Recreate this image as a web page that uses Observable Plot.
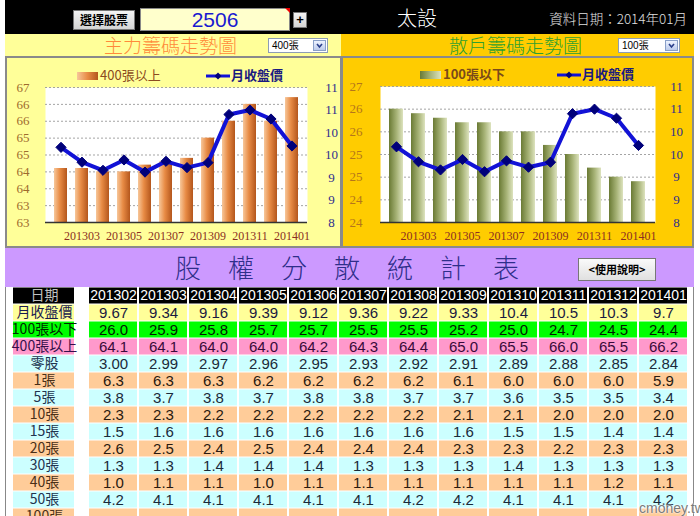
<!DOCTYPE html>
<html><head><meta charset="utf-8">
<script src="https://cdn.jsdelivr.net/npm/d3@7"></script>
<script src="https://cdn.jsdelivr.net/npm/@observablehq/plot@0.6"></script>
<style>
body{margin:0;width:700px;height:516px;overflow:hidden;background:#fff;position:relative;font-family:"Noto Sans CJK TC",sans-serif}
.abs{position:absolute;white-space:nowrap}
.btn{background:linear-gradient(#f4f4f4,#d4d4d4);border:1px solid #777;box-sizing:border-box;text-align:center;color:#000;font-weight:bold}
.sel{background:#fff;border:1px solid #8d9db5;box-sizing:border-box;font-size:10px;line-height:13px;padding-left:3px;color:#000;font-family:"Liberation Sans","Noto Sans CJK TC"}
.sel i{position:absolute;right:1px;top:1px;width:13px;height:11px;background:linear-gradient(#eef3ff,#bccbeb);border:1px solid #8aa0c8;box-sizing:border-box}
.plotbox{position:absolute}
.plotbox svg{position:absolute;left:0;top:0}
</style></head>
<body>
<!-- header -->
<div class="abs" style="left:5px;top:0;width:689px;height:34px;background:#000"></div>
<div class="abs btn" style="left:73px;top:10px;width:62px;height:20px;font-size:12px;line-height:18px">選擇股票</div>
<div class="abs" style="left:140px;top:8px;width:150px;height:23px;background:#FFFFCC;border:1px solid #888;box-sizing:border-box;text-align:center;color:#1a1ad0;font:21px/21px 'Liberation Sans',sans-serif">2506</div>
<div class="abs" style="left:285px;top:8px;width:0;height:0;border-left:5px solid transparent;border-top:5px solid #e00"></div>
<div class="abs btn" style="left:293px;top:12px;width:14px;height:16px;font:bold 13px/13px 'Liberation Sans',sans-serif">+</div>
<div class="abs" style="left:397px;top:6px;color:#fff;font-size:20px;line-height:24px;font-weight:300">太設</div>
<div class="abs" style="left:515px;top:9px;width:172px;text-align:right;color:#e0e0e0;font-size:13.5px;line-height:18px;font-weight:300">資料日期：2014年01月</div>

<!-- section titles -->
<div class="abs" style="left:5px;top:34px;width:336px;height:22px;background:#FFFF99"></div>
<div class="abs" style="left:341px;top:34px;width:353px;height:22px;background:#FFCC00"></div>
<div class="abs" style="left:104px;top:33px;color:#FF8A3A;font-size:19px;line-height:24px;font-weight:300">主力籌碼走勢圖</div>
<div class="abs" style="left:449px;top:33px;color:#2FA02F;font-size:19px;line-height:24px;font-weight:300">散戶籌碼走勢圖</div>
<div class="abs sel" style="left:268px;top:38px;width:60px;height:15px">400張<i><svg width="11" height="9" style="position:absolute;left:0;top:0"><polyline points="3,3 5.5,6 8,3" fill="none" stroke="#2a3f8a" stroke-width="1.6"/></svg></i></div>
<div class="abs sel" style="left:618px;top:38px;width:62px;height:15px">100張<i><svg width="11" height="9" style="position:absolute;left:0;top:0"><polyline points="3,3 5.5,6 8,3" fill="none" stroke="#2a3f8a" stroke-width="1.6"/></svg></i></div>

<!-- chart panels -->
<div class="abs" style="left:5px;top:56px;width:337px;height:192px;background:#FFFF99;border:2px solid #8a8a8a;box-sizing:border-box"></div>
<div class="abs" style="left:341px;top:56px;width:353px;height:192px;background:#FFCC00;border:2px solid #8a8a8a;box-sizing:border-box"></div>

<!-- legends -->
<div class="abs" style="left:77px;top:72px;width:21px;height:8px;background:linear-gradient(to right,#F7C79A,#E88B45,#B4561C)"></div>
<div class="abs" style="left:100px;top:66px;color:#8B4A20;font-size:13px;line-height:18px">400張以上</div>
<svg class="abs" style="left:206px;top:70px" width="24" height="12"><line x1="0" y1="6" x2="24" y2="6" stroke="#1010D8" stroke-width="3"/><path d="M12,2.5L15.5,6L12,9.5L8.5,6Z" fill="#00007A"/></svg>
<div class="abs" style="left:231px;top:66px;color:#1a1a80;font-size:13px;line-height:18px;font-weight:bold">月收盤價</div>

<div class="abs" style="left:420px;top:71px;width:21px;height:8px;background:linear-gradient(to right,#6A7A34,#A8B478,#DDE3BE)"></div>
<div class="abs" style="left:443px;top:65px;color:#7a4a1a;font-size:13px;line-height:18px;font-weight:bold">100張以下</div>
<svg class="abs" style="left:557px;top:69px" width="24" height="12"><line x1="0" y1="6" x2="24" y2="6" stroke="#1010D8" stroke-width="3"/><path d="M12,2.5L15.5,6L12,9.5L8.5,6Z" fill="#00007A"/></svg>
<div class="abs" style="left:582px;top:65px;color:#1a1a80;font-size:13px;line-height:18px;font-weight:bold">月收盤價</div>

<div id="chartL" class="plotbox" style="left:8px;top:62px;width:332px;height:184px"></div>
<div id="chartR" class="plotbox" style="left:344px;top:62px;width:348px;height:184px"></div>

<!-- table title band -->
<div class="abs" style="left:5px;top:248px;width:689px;height:39px;background:#CC99FF"></div>
<div class="abs" style="left:175px;top:250px;color:#2E2E8A;font-size:26px;line-height:34px;letter-spacing:27px;font-weight:300">股權分散統計表</div>
<div class="abs btn" style="left:578px;top:258px;width:78px;height:23px;font-size:11px;line-height:21px;background:linear-gradient(#fafafa,#e0e0e0)">&lt;使用說明&gt;</div>

<div class="abs" style="left:5px;top:287px;width:689px;height:240px;border-left:1px solid #888;border-right:1px solid #888;box-sizing:border-box"></div>
<div id="tblL" class="plotbox" style="left:6px;top:287px;width:76px;height:238px"></div>
<div id="tblR" class="plotbox" style="left:82px;top:287px;width:611px;height:238px"></div>

<div class="abs" style="left:639px;top:500px;color:#7a7a7a;font:14px/16px 'Liberation Sans',sans-serif;text-shadow:0 0 2px #fff,0 0 2px #fff">cmoney.tw</div>

<script>
// ---------- data ----------
const months = ["201302","201303","201304","201305","201306","201307","201308","201309","201310","201311","201312","201401"];
const closePrice = [9.67, 9.34, 9.16, 9.39, 9.12, 9.36, 9.22, 9.33, 10.4, 10.5, 10.3, 9.7];
const under100 = [26.0, 25.9, 25.8, 25.7, 25.7, 25.5, 25.5, 25.2, 25.0, 24.7, 24.5, 24.4];
const over400 = [64.1, 64.1, 64.0, 64.0, 64.2, 64.3, 64.4, 65.0, 65.5, 66.0, 65.5, 66.2];
const oddLot = [3.00, 2.99, 2.97, 2.96, 2.95, 2.93, 2.92, 2.91, 2.89, 2.88, 2.85, 2.84];
const lot1 = [6.3, 6.3, 6.3, 6.2, 6.2, 6.2, 6.2, 6.1, 6.0, 6.0, 6.0, 5.9];
const lot5 = [3.8, 3.7, 3.8, 3.7, 3.8, 3.8, 3.7, 3.7, 3.6, 3.5, 3.5, 3.4];
const lot10 = [2.3, 2.3, 2.2, 2.2, 2.2, 2.2, 2.2, 2.1, 2.1, 2.0, 2.0, 2.0];
const lot15 = [1.5, 1.6, 1.6, 1.6, 1.6, 1.6, 1.6, 1.6, 1.5, 1.5, 1.4, 1.4];
const lot20 = [2.6, 2.5, 2.4, 2.5, 2.4, 2.4, 2.4, 2.3, 2.3, 2.2, 2.3, 2.3];
const lot30 = [1.3, 1.3, 1.4, 1.4, 1.4, 1.3, 1.3, 1.3, 1.4, 1.3, 1.3, 1.3];
const lot40 = [1.0, 1.1, 1.1, 1.0, 1.1, 1.1, 1.1, 1.1, 1.1, 1.1, 1.2, 1.1];
const lot50 = [4.2, 4.1, 4.1, 4.1, 4.1, 4.1, 4.2, 4.2, 4.1, 4.1, 4.1, 4.2];

const over400Ticks = [62.5, 63, 63.5, 64, 64.5, 65, 65.5, 66, 66.5];
const under100Ticks = [23.5, 24, 24.5, 25, 25.5, 26, 26.5];
const priceTicks = [8, 8.5, 9, 9.5, 10, 10.5, 11];
const rowLabels = ["日期","月收盤價","100張以下","400張以上","零股","1張","5張","10張","15張","20張","30張","40張","50張","100張"];

// ---------- styles ----------
const rowValues = [closePrice, under100, over400, oddLot, lot1, lot5, lot10, lot15, lot20, lot30, lot40, lot50];
const rowDigits = [null, 1, 1, 2, 1, 1, 1, 1, 1, 1, 1, 1];
const CYAN = "#CCFFFF", PEACH = "#FFCC99";
const rowBg = ["#000000","#FFFF99","#00FF00","#FF99CC",CYAN,PEACH,CYAN,PEACH,CYAN,PEACH,CYAN,PEACH,CYAN,PEACH];
const rowLabelColor = ["#c0c0c0","#1a1a50","#002800","#34104a","#223450","#4a3018","#223450","#4a3018","#223450","#4a3018","#223450","#4a3018","#223450","#4a3018"];
const rowValueColor = ["#ffffff","#1a1a40","#001a00","#3a0a3a","#1a2a3a","#2a1a10","#1a2a3a","#2a1a10","#1a2a3a","#2a1a10","#1a2a3a","#2a1a10","#1a2a3a","#2a1a10"];
const labeledMonths = months.filter((d, i) => i % 2 === 1);

function gradDefs(id, stops) {
  return () => {
    const defs = d3.create("svg:defs");
    const g = defs.append("linearGradient").attr("id", id)
      .attr("x1", "0").attr("x2", "1").attr("y1", "0").attr("y2", "0");
    stops.forEach(([o, c]) => g.append("stop").attr("offset", o).attr("stop-color", c));
    return defs.node();
  };
}

function barChart(cfg) {
  const data = months.map((m, i) => ({month: m, v: cfg.values[i]}));
  return Plot.plot({
    width: cfg.width, height: cfg.height,
    marginLeft: cfg.ml, marginRight: cfg.mr, marginTop: cfg.mt, marginBottom: cfg.mb,
    style: {background: "transparent", fontFamily: "'Liberation Serif', serif", overflow: "visible"},
    x: {type: "band", domain: months, paddingInner: cfg.pad, paddingOuter: cfg.pad / 2, axis: null},
    y: {domain: [cfg.ticks[0], cfg.ticks[cfg.ticks.length - 1]], axis: null},
    marks: [
      gradDefs(cfg.gradId, cfg.stops),
      Plot.frame({fill: "white", stroke: "none"}),
      Plot.gridY(cfg.ticks.slice(1), {stroke: "#9a9a9a", strokeOpacity: 0.9, strokeDasharray: "2,2"}),
      Plot.barY(data, {x: "month", y: "v", fill: `url(#${cfg.gradId})`, clip: true}),
      Plot.ruleY(cfg.ticks.slice(0, 1), {stroke: "#333", strokeWidth: 1.5}),
      Plot.axisY(cfg.ticks, {anchor: "left", label: null, tickSize: 0, tickPadding: cfg.tp, tickFormat: d => String(Math.round(d)), fill: cfg.tickColor, fontSize: 13}),
      Plot.axisX(labeledMonths, {anchor: "bottom", label: null, tickSize: 0, tickPadding: 9, fill: "#8B2E22", fontSize: 12})
    ]
  });
}

function lineChart(cfg) {
  const data = months.map((m, i) => ({month: m, p: closePrice[i]}));
  return Plot.plot({
    width: cfg.width, height: cfg.height,
    marginLeft: cfg.ml, marginRight: cfg.mr, marginTop: cfg.mt, marginBottom: cfg.mb,
    style: {background: "transparent", fontFamily: "'Liberation Serif', serif", overflow: "visible"},
    x: {type: "band", domain: months, paddingInner: cfg.pad, paddingOuter: cfg.pad / 2, axis: null},
    y: {domain: [priceTicks[0], priceTicks[priceTicks.length - 1]], axis: null},
    marks: [
      Plot.line(data, {x: "month", y: "p", stroke: "#1212D6", strokeWidth: 4}),
      Plot.dot(data, {x: "month", y: "p", symbol: "diamond2", r: 4.6, fill: "#00007A", stroke: "#00007A", strokeWidth: 1}),
      Plot.axisY(priceTicks, {anchor: "right", label: null, tickSize: 0, tickPadding: cfg.rp, textAnchor: "middle", tickFormat: d => String(Math.round(d)), fill: "#2E2E8E", fontSize: 13})
    ]
  });
}

const cfgL = {width: 332, height: 184, ml: 37, mr: 33, mt: 25, mb: 24, pad: 0.38, tp: 16, rp: 24,
  values: over400, ticks: over400Ticks, gradId: "gOrange", tickColor: "#9E6B2E",
  stops: [[0, "#F7C79A"], [0.45, "#E88B45"], [1, "#B4561C"]]};
const cfgR = {width: 348, height: 184, ml: 36, mr: 37, mt: 24, mb: 24, pad: 0.345, tp: 18, rp: 21,
  values: under100, ticks: under100Ticks, gradId: "gGreen", tickColor: "#B5761B",
  stops: [[0, "#6A7A34"], [0.55, "#A8B478"], [1, "#DDE3BE"]]};

const elL = document.getElementById("chartL");
elL.append(barChart(cfgL), lineChart(cfgL));
const elR = document.getElementById("chartR");
elR.append(barChart(cfgR), lineChart(cfgR));

// ---------- table ----------
const labelData = rowLabels.map((r, j) => ({row: r, bg: rowBg[j], color: rowLabelColor[j]}));
const tblLeft = Plot.plot({
  width: 76, height: 238, margin: 0,
  style: {background: "transparent", overflow: "visible"},
  x: {type: "band", domain: ["label"], axis: null},
  y: {type: "band", domain: rowLabels, padding: 0, axis: null},
  color: {type: "identity"},
  marks: [
    Plot.cell(labelData, {x: () => "label", y: "row", fill: "bg", insetRight: 1, insetTop: 0.5, insetBottom: 0.5}),
    Plot.text(labelData, {x: () => "label", y: "row", text: "row", fill: "color", fontSize: 14, fontFamily: "'Noto Sans CJK TC', sans-serif"})
  ]
});
document.getElementById("tblL").append(tblLeft);

const cells = [];
months.forEach((m, i) => cells.push({row: rowLabels[0], month: m, text: m, bg: rowBg[0], color: rowValueColor[0], size: 14}));
rowValues.forEach((vals, j) => {
  months.forEach((m, i) => {
    const v = vals[i];
    const t = rowDigits[j] == null ? String(v) : v.toFixed(rowDigits[j]);
    cells.push({row: rowLabels[j + 1], month: m, text: t, bg: rowBg[j + 1], color: rowValueColor[j + 1], size: 15});
  });
});
months.forEach((m) => cells.push({row: rowLabels[13], month: m, text: "", bg: rowBg[13], color: rowValueColor[13], size: 15}));

const tblRight = Plot.plot({
  width: 611, height: 238, margin: 0,
  style: {background: "transparent", overflow: "visible"},
  x: {type: "band", domain: months, padding: 0, axis: null},
  y: {type: "band", domain: rowLabels, padding: 0, axis: null},
  color: {type: "identity"},
  marks: [
    Plot.cell(cells, {x: "month", y: "row", fill: "bg", insetLeft: 1, insetRight: 1, insetTop: 0.5, insetBottom: 0.5}),
    Plot.text(cells, {x: "month", y: "row", text: "text", fill: "color", fontSize: d => d.size, fontFamily: "'Liberation Sans', Arial, sans-serif"})
  ]
});
document.getElementById("tblR").append(tblRight);
</script>
</body></html>
